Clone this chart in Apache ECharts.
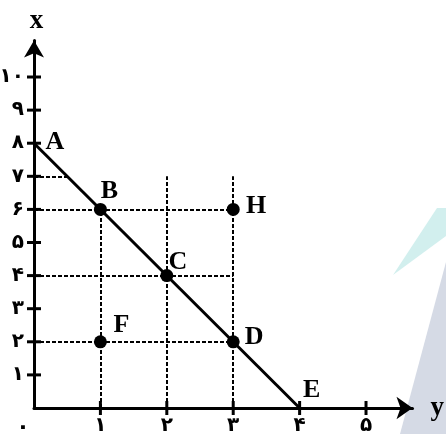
<!DOCTYPE html>
<html lang="fa">
<head>
    <meta charset="UTF-8">
    <title>x - y</title>
    <script src="https://cdn.jsdelivr.net/npm/echarts@6/dist/echarts.min.js"></script>
    <style>
        html, body { margin: 0; padding: 0; background: #fff; }
        #main { width: 446px; height: 434px; }
    </style>
</head>
<body>
    <div id="main"></div>
    <script type="text/javascript">
        // data: horizontal axis is "y", vertical axis is "x"
        const pointNames = ['A', 'B', 'C', 'D', 'E', 'F', 'H'];
        const pointY = [0, 1, 2, 3, 4, 1, 3];
        const pointX = [8, 6, 4, 2, 0, 2, 6];
        const dotNames = ['B', 'C', 'D', 'F', 'H'];
        const lineEnds = ['A', 'E'];

        // dashed guides: [level, end]
        const hGuides = [[7, 0.5], [6, 3], [4, 3], [2, 3]];
        const vGuides = [[1, 6], [2, 7], [3, 7]];

        const yTicks = [1, 2, 3, 4, 5];
        const xTicks = [1, 2, 3, 4, 5, 6, 7, 8, 9, 10];
        const tickLabelsY = ['۰', '۱', '۲', '۳', '۴', '۵'];
        const tickLabelsX = ['۰', '۱', '۲', '۳', '۴', '۵', '۶', '۷', '۸', '۹', '۱۰'];

        // label offsets (px) for the letters
        const labelOffset = {
            A: [21, -1], B: [9, -18], C: [11, -13], D: [21, -5],
            E: [12, -18], F: [21, -17], H: [23, -3]
        };

        const coordOf = (n) => {
            const i = pointNames.indexOf(n);
            return [pointY[i], pointX[i]];
        };

        const myChart = echarts.init(document.getElementById('main'));

        const digitFont = 'DejaVu Sans';
        const letterFont = 'Liberation Serif';

        const option = {
            animation: false,
            backgroundColor: '#fff',
            grid: { left: 34, top: 40.6, width: 378.5, height: 367.4, outerBoundsMode: 'none', containLabel: false },
            graphic: [
                {
                    type: 'polygon', z: -10, silent: true,
                    shape: { points: [[393, 275], [437, 208], [446, 208], [446, 236]] },
                    style: { fill: '#d2efee' }
                },
                {
                    type: 'polygon', z: -10, silent: true,
                    shape: { points: [[400, 434], [446, 262], [446, 434]] },
                    style: { fill: '#d5dae5' }
                }
            ],
            xAxis: {
                type: 'value', min: 0, max: 5.7, interval: 1,
                name: 'y', nameLocation: 'end', nameGap: 18,
                nameTextStyle: { fontFamily: letterFont, fontWeight: 'bold', fontSize: 27, color: '#000', verticalAlign: 'middle', padding: [0, 0, 6, 0] },
                axisLine: { lineStyle: { color: '#000', width: 3 }, symbol: ['none', 'arrow'], symbolSize: [17, 16] },
                axisTick: { show: false },
                splitLine: { show: false },
                axisLabel: {
                    margin: 8, color: '#000', fontFamily: digitFont, fontWeight: 'bold', fontSize: 20,
                    formatter: (v) => v === 0 ? '{z|' + tickLabelsY[0] + '}' : (tickLabelsY[v] || ''),
                    rich: { z: { fontFamily: digitFont, fontSize: 22, fontWeight: 'bold', color: '#000', padding: [0, 22, 0, 0] } }
                }
            },
            yAxis: {
                type: 'value', min: 0, max: 11.1, interval: 1,
                name: 'x', nameLocation: 'end', nameGap: 6,
                nameTextStyle: { fontFamily: letterFont, fontWeight: 'bold', fontSize: 27, color: '#000', padding: [0, 0, 0, 5] },
                axisLine: { lineStyle: { color: '#000', width: 3 }, symbol: ['none', 'arrow'], symbolSize: [15, 17] },
                axisTick: { show: false },
                splitLine: { show: false },
                axisLabel: {
                    margin: 10, color: '#000', fontFamily: digitFont, fontWeight: 'bold', fontSize: 20,
                    formatter: (v) => (v >= 1 && v <= 10) ? tickLabelsX[v] : ''
                }
            },
            series: [
                {
                    type: 'lines', coordinateSystem: 'cartesian2d', silent: true, z: 1,
                    lineStyle: { color: '#000', width: 2, type: [4, 2], opacity: 1 },
                    data: hGuides.map((g) => ({ coords: [[0, g[0]], [g[1], g[0]]] }))
                        .concat(vGuides.map((g) => ({ coords: [[g[0], 0], [g[0], g[1]]] })))
                },
                {
                    type: 'line', symbol: 'none', z: 3,
                    lineStyle: { color: '#000', width: 3 },
                    data: lineEnds.map(coordOf)
                },
                {
                    // axis ticks crossing the axes
                    type: 'scatter', symbol: 'rect', silent: true, z: 4,
                    itemStyle: { color: '#000', opacity: 1 },
                    data: yTicks.map((t) => ({ value: [t, 0], symbolSize: [3, 14] }))
                        .concat(xTicks.map((t) => ({ value: [0, t], symbolSize: [14, 3] })))
                },
                {
                    type: 'scatter', z: 5,
                    itemStyle: { color: '#000', opacity: 1 },
                    data: pointNames.map((n) => ({
                        name: n,
                        value: coordOf(n),
                        symbolSize: dotNames.includes(n) ? 13 : 0,
                        label: {
                            show: true, formatter: n, position: 'inside',
                            offset: labelOffset[n], opacity: 1,
                            fontFamily: letterFont, fontWeight: 'bold', fontSize: 26, color: '#000'
                        }
                    }))
                }
            ]
        };

        myChart.setOption(option);
    </script>
</body>
</html>
